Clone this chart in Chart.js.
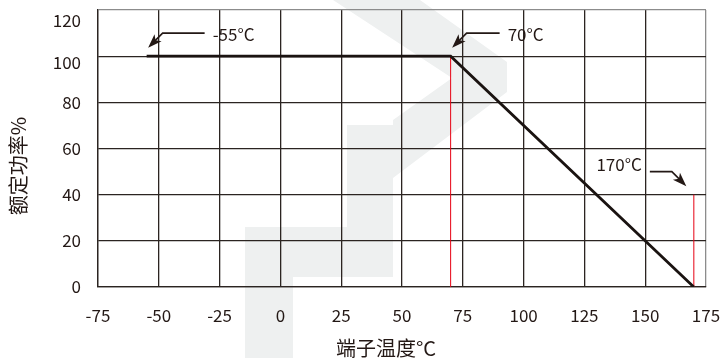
<!DOCTYPE html>
<html>
<head>
<meta charset="utf-8">
<script src="https://cdn.jsdelivr.net/npm/chart.js@4/dist/chart.umd.min.js"></script>
<style>
  html, body { margin: 0; padding: 0; background: #ffffff; }
  #wrap { width: 721px; height: 358px; }
</style>
</head>
<body>
<div id="wrap"><canvas id="chart" width="721" height="358"></canvas></div>
<script>
// Derating curve: rated power (%) versus terminal temperature (°C)
const temperatures = [-55, 70, 170];
const ratedPower = [100, 100, 0];

// Red guide lines dropped from the curve's break points
const guideTemps = [70, 170];
const guideTops = [100, 40];

// Tick labels
const xTicks = [-75, -50, -25, 0, 25, 50, 75, 100, 125, 150, 175];
const yTicks = [0, 20, 40, 60, 80, 100, 120];

// Callouts pointing at the key temperatures
const calloutLabels = ['-55°C', '70°C', '170°C'];
const calloutTemps = [-55, 70, 170];
const calloutPowers = [100, 100, 40];

const xTitle = '端子温度°C';
const yTitle = '额定功率%';

const INK = '#231815';
const GRID = '#2b2421';
const RED = '#e60012';
const FONT = '"Noto Sans CJK SC", "Noto Sans", sans-serif';

// Faint logo shapes printed behind the chart
const backdrop = {
  id: 'backdrop',
  beforeDraw(chart) {
    const ctx = chart.ctx;
    ctx.save();
    ctx.fillStyle = '#eef0f0';
    const shapes = [
      [[245, 358], [245, 227], [347, 227], [347, 125], [393, 125], [393, 277], [293, 277], [293, 358]],
      [[333, 0], [420, 0], [507, 62], [507, 92], [393, 178], [393, 120], [452, 78]]
    ];
    shapes.forEach(pts => {
      ctx.beginPath();
      pts.forEach((p, i) => i ? ctx.lineTo(p[0], p[1]) : ctx.moveTo(p[0], p[1]));
      ctx.closePath();
      ctx.fill();
    });
    ctx.restore();
  }
};

function arrowHead(ctx, tipX, tipY, fromX, fromY) {
  const ang = Math.atan2(tipY - fromY, tipX - fromX);
  const len = 14, half = 5;
  const c = Math.cos(ang), s = Math.sin(ang);
  const bx = tipX - len * c, by = tipY - len * s;
  ctx.beginPath();
  ctx.moveTo(tipX, tipY);
  ctx.lineTo(bx - s * half, by + c * half);
  ctx.lineTo(tipX - 0.75 * len * c, tipY - 0.75 * len * s);
  ctx.lineTo(bx + s * half, by - c * half);
  ctx.closePath();
  ctx.fill();
}

// Axis titles and callout arrows
const annotations = {
  id: 'annotations',
  afterDraw(chart) {
    const ctx = chart.ctx;
    const xs = chart.scales.x, ys = chart.scales.y;
    ctx.save();
    ctx.fillStyle = INK;
    ctx.strokeStyle = INK;
    ctx.font = '20px ' + FONT;
    ctx.textBaseline = 'middle';

    // axis titles
    ctx.textAlign = 'center';
    ctx.fillText(xTitle, 386, 348);
    ctx.save();
    ctx.translate(18, 166);
    ctx.rotate(-Math.PI / 2);
    ctx.fillText(yTitle, 0, 0);
    ctx.restore();

    // callouts: short leader, 45° bend, arrow head on the point
    ctx.font = '17px ' + FONT;
    ctx.lineWidth = 1.6;
    const leaders = [42, 33, 22];
    calloutLabels.forEach((label, i) => {
      const px = xs.getPixelForValue(calloutTemps[i]);
      const py = ys.getPixelForValue(calloutPowers[i]);
      const dir = i < 2 ? 1 : -1;            // text to the right of the point, or to the left
      const tipX = px + (dir > 0 ? 1.5 : -7.5);
      const tipY = py - 8.5;
      const elbowX = tipX + dir * 14.5;
      const elbowY = tipY - 14.5;
      const endX = elbowX + dir * leaders[i];
      ctx.beginPath();
      ctx.moveTo(endX, elbowY);
      ctx.lineTo(elbowX, elbowY);
      ctx.lineTo(tipX + dir * 6, tipY - 6);
      ctx.stroke();
      arrowHead(ctx, tipX, tipY, elbowX, elbowY);
      if (dir > 0) {
        ctx.textAlign = 'left';
        ctx.fillText(label, endX + 8, elbowY + 1.5);
      } else {
        ctx.textAlign = 'right';
        ctx.fillText(label, endX - 8, elbowY - 7);
      }
    });
    ctx.restore();
  }
};

const curve = temperatures.map((t, i) => ({ x: t, y: ratedPower[i] }));
const guides = guideTemps.map((t, i) => ({
  type: 'scatter',
  data: [{ x: t, y: 0 }, { x: t, y: guideTops[i] }],
  showLine: true,
  borderColor: RED,
  borderWidth: 1,
  pointRadius: 0
}));

// keep the plot box fixed: no extra room reserved for overhanging tick labels
const noOverhang = s => {
  s.paddingTop = 0; s.paddingBottom = 0; s.paddingLeft = 0; s.paddingRight = 0;
};

// the two top labels sit just under their grid lines
const yLabelDrop = { 120: 1.2, 100: 0.7 };

new Chart(document.getElementById('chart'), {
  type: 'scatter',
  data: {
    datasets: [
      {
        data: curve,
        showLine: true,
        borderColor: '#1a1311',
        borderWidth: 2.8,
        borderJoinStyle: 'miter',
        borderCapStyle: 'butt',
        pointRadius: 0
      },
      ...guides
    ]
  },
  options: {
    responsive: false,
    animation: false,
    devicePixelRatio: 1,
    layout: { padding: { top: 10, right: 15, left: 0, bottom: 0 } },
    plugins: { legend: { display: false }, tooltip: { enabled: false } },
    scales: {
      x: {
        type: 'linear',
        min: -75,
        max: 175,
        afterBuildTicks: s => { s.ticks = xTicks.map(v => ({ value: v })); },
        afterFit: s => { s.height = 71; noOverhang(s); },
        grid: {
          drawTicks: false,
          lineWidth: 1.3,
          color: c => (c.tick && c.tick.value === 175 ? '#8c8c8c' : GRID)
        },
        border: { color: GRID, width: 1.3 },
        ticks: {
          padding: 20,
          color: INK,
          font: { family: FONT, size: 17, lineHeight: 1 },
          maxRotation: 0,
          autoSkip: false
        }
      },
      y: {
        type: 'linear',
        min: 0,
        max: 120,
        afterBuildTicks: s => { s.ticks = yTicks.map(v => ({ value: v })); },
        afterFit: s => { s.width = 98; noOverhang(s); },
        grid: {
          drawTicks: false,
          lineWidth: 1.3,
          color: c => (c.tick && c.tick.value === 120 ? '#8c8c8c' : GRID)
        },
        border: { color: GRID, width: 1.3 },
        ticks: {
          padding: 17,
          color: INK,
          font: c => ({
            family: FONT,
            size: 17,
            lineHeight: (c.tick && yLabelDrop[c.tick.value]) || 1
          }),
          callback: v => (yLabelDrop[v] ? ['', String(v)] : String(v)),
          autoSkip: false
        }
      }
    }
  },
  plugins: [backdrop, annotations]
});
</script>
</body>
</html>
